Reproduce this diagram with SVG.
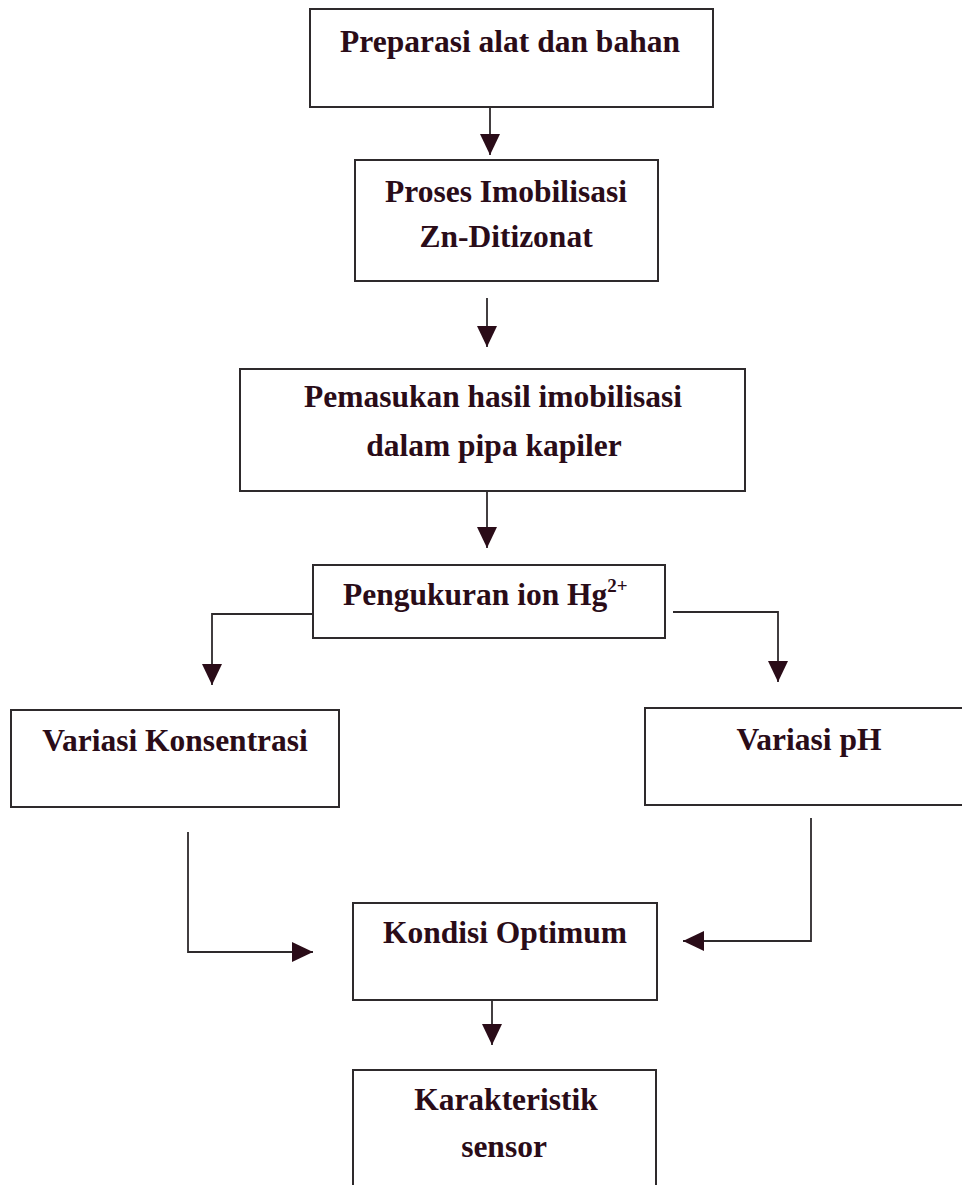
<svg xmlns="http://www.w3.org/2000/svg" width="962" height="1185" viewBox="0 0 962 1185">
<style>
.box{fill:#fff;stroke:#2e2a2c;stroke-width:2}
.t{font-family:"Liberation Serif","Times New Roman",serif;font-weight:bold;font-size:31.5px;fill:#2a0c18;text-anchor:middle}
.c{fill:none;stroke:#2e2a2c;stroke-width:1.8}
</style>
<defs>
<marker id="ah" markerUnits="userSpaceOnUse" markerWidth="22" markerHeight="22" viewBox="0 0 22 22" refX="21" refY="11" orient="auto">
<path d="M0,1 L21,11 L0,21 Z" fill="#2a0c18"/>
</marker>
</defs>
<rect width="962" height="1185" fill="#fff"/>
<g id="connectors">
<path class="c" d="M490,107 V155" marker-end="url(#ah)"/>
<path class="c" d="M487,298 V347" marker-end="url(#ah)"/>
<path class="c" d="M487,491 V548" marker-end="url(#ah)"/>
<path class="c" d="M313,614 H212 V685" marker-end="url(#ah)"/>
<path class="c" d="M673,612 H778 V682" marker-end="url(#ah)"/>
<path class="c" d="M188,832 V952 H313" marker-end="url(#ah)"/>
<path class="c" d="M811,818 V941 H683" marker-end="url(#ah)"/>
<path class="c" d="M492,1000 V1045" marker-end="url(#ah)"/>
</g>
<g id="preparasi">
<rect class="box" x="310" y="9" width="403" height="98"/>
<text class="t" x="510" y="52">Preparasi alat dan bahan</text>
</g>
<g id="imobilisasi">
<rect class="box" x="355" y="160" width="303" height="121"/>
<text class="t" x="506" y="202">Proses Imobilisasi</text>
<text class="t" x="506" y="247">Zn-Ditizonat</text>
</g>
<g id="pemasukan">
<rect class="box" x="240" y="369" width="505" height="122"/>
<text class="t" x="493" y="407">Pemasukan hasil imobilisasi</text>
<text class="t" x="494" y="456">dalam pipa kapiler</text>
</g>
<g id="pengukuran">
<rect class="box" x="313" y="565" width="352" height="73"/>
<text class="t" x="343" y="605" style="text-anchor:start">Pengukuran ion Hg<tspan font-size="19" dy="-13">2+</tspan></text>
</g>
<g id="konsentrasi">
<rect class="box" x="11" y="710" width="328" height="97"/>
<text class="t" x="175" y="751">Variasi Konsentrasi</text>
</g>
<g id="ph">
<rect class="box" x="645" y="708" width="330" height="97"/>
<text class="t" x="809" y="750">Variasi pH</text>
</g>
<g id="optimum">
<rect class="box" x="353" y="903" width="304" height="97"/>
<text class="t" x="505" y="943">Kondisi Optimum</text>
</g>
<g id="karakteristik">
<rect class="box" x="353" y="1070" width="303" height="130"/>
<text class="t" x="506" y="1110">Karakteristik</text>
<text class="t" x="504" y="1157">sensor</text>
</g>
</svg>
